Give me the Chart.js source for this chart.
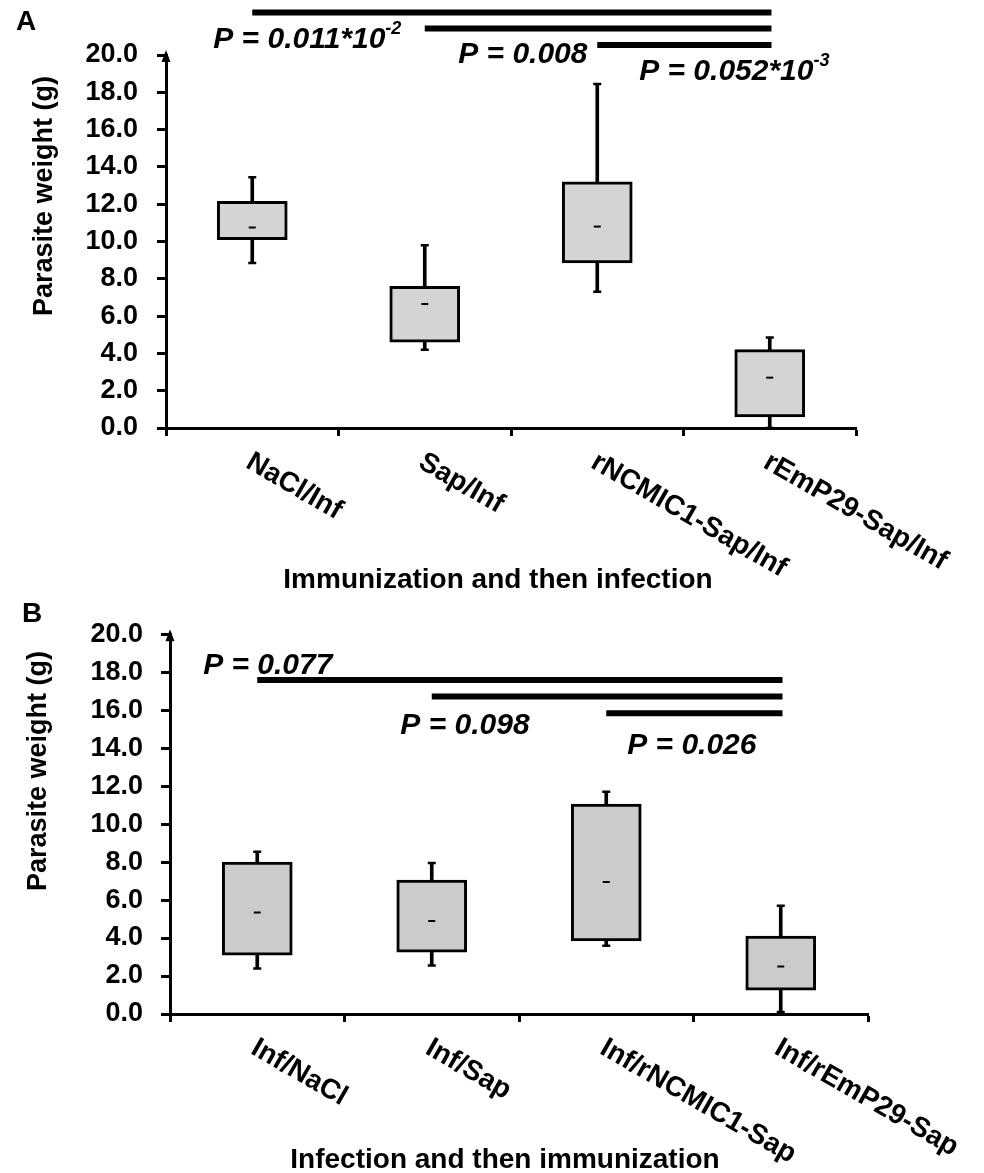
<!DOCTYPE html>
<html>
<head>
<meta charset="utf-8">
<script src="https://cdn.jsdelivr.net/npm/chart.js@4.4.0/dist/chart.umd.min.js"></script>
<style>
  html, body { margin:0; padding:0; background:#fff; }
  #wrap { position:relative; width:984px; height:1173px; }
  .panel { position:absolute; left:0; width:984px; }
  #panelA { top:0; height:600px; }
  #panelB { top:600px; height:573px; }
</style>
</head>
<body>
<div id="wrap">
  <div class="panel" id="panelA"><canvas id="chartA" width="984" height="600"></canvas></div>
  <div class="panel" id="panelB"><canvas id="chartB" width="984" height="573"></canvas></div>
</div>
<script>
const FONT = '"Liberation Sans", Arial, Helvetica, sans-serif';

// --- panel A: immunization and then infection ---
const groupsA = ['NaCl/Inf', 'Sap/Inf', 'rNCMIC1-Sap/Inf', 'rEmP29-Sap/Inf'];
const minA = [8.85, 4.2, 7.3, 0.0];
const q1A  = [10.1, 4.6, 8.85, 0.6];
const medA = [10.75, 6.65, 10.8, 2.7];
const q3A  = [12.15, 7.6, 13.2, 4.2];
const maxA = [13.45, 9.8, 18.45, 4.85];
// significance bars: from group index to last group, at a y level
const barFromA  = [0, 1, 2];
const barLevelA = [22.28, 21.42, 20.54];
const pTextA = ['P = 0.011*10', 'P = 0.008', 'P = 0.052*10'];
const pSupA  = ['-2', '', '-3'];

// --- panel B: infection and then immunization ---
const groupsB = ['Inf/NaCl', 'Inf/Sap', 'Inf/rNCMIC1-Sap', 'Inf/rEmP29-Sap'];
const minB = [2.4, 2.55, 3.6, 0.1];
const q1B  = [3.1, 3.25, 3.85, 1.25];
const medB = [5.35, 4.9, 6.95, 2.5];
const q3B  = [8.0, 7.05, 11.05, 4.1];
const maxB = [8.55, 7.95, 11.7, 5.7];
const barFromB  = [0, 1, 2];
const barLevelB = [17.59, 16.72, 15.84];
const pTextB = ['P = 0.077', 'P = 0.098', 'P = 0.026'];
const pSupB  = ['', '', ''];

const yTicks = [0, 2, 4, 6, 8, 10, 12, 14, 16, 18, 20];

// draws the rotated category labels, titles, axis arrow and p-values
const decoPlugin = {
  id: 'deco',
  afterDraw(chart, args, o) {
    const {ctx, chartArea: a, scales} = chart;
    const x = scales.x, x2 = scales.x2, y = scales.y;
    ctx.save();
    ctx.fillStyle = '#000';

    // arrow head on top of y axis
    ctx.beginPath();
    ctx.moveTo(a.left, a.top - 5);
    ctx.lineTo(a.left - 4.5, a.top + 7);
    ctx.lineTo(a.left + 4.5, a.top + 7);
    ctx.closePath();
    ctx.fill();

    ctx.textAlign = 'left';
    ctx.textBaseline = 'alphabetic';
    ctx.font = 'bold 28px ' + FONT;
    ctx.fillText(o.letter, o.letterPos[0], o.letterPos[1]);

    ctx.save();
    ctx.translate(o.yTitlePos[0], o.yTitlePos[1]);
    ctx.rotate(-Math.PI / 2);
    ctx.font = 'bold 27px ' + FONT;
    ctx.textAlign = 'center';
    ctx.textBaseline = 'middle';
    ctx.fillText(o.yTitle, 0, 0);
    ctx.restore();

    ctx.font = 'bold 28px ' + FONT;
    ctx.textAlign = 'center';
    ctx.fillText(o.xTitle, o.xTitlePos[0], o.xTitlePos[1]);

    o.labels.forEach((t, i) => {
      ctx.save();
      ctx.translate(x.getPixelForValue(i) + 3, x.top + 20);
      ctx.rotate(30 * Math.PI / 180);
      ctx.font = 'bold 28px ' + FONT;
      ctx.textAlign = 'left';
      ctx.textBaseline = 'top';
      ctx.fillText(t, 0, 0);
      ctx.restore();
    });

    ctx.textAlign = 'left';
    ctx.textBaseline = 'alphabetic';
    o.pLabels.forEach(p => {
      const px = x2.getPixelForValue(p.x), py = y.getPixelForValue(p.y);
      ctx.font = 'italic bold 30px ' + FONT;
      ctx.fillText(p.text, px, py);
      if (p.sup) {
        const w = ctx.measureText(p.text).width;
        ctx.font = 'italic bold 18px ' + FONT;
        ctx.fillText(p.sup, px + w, py - 14);
      }
    });
    ctx.restore();
  }
};

function makeChart(id, d) {
  const n = d.groups.length;
  const datasets = [
    { type: 'line', data: d.med, showLine: false, pointStyle: 'line', pointRadius: 3.5,
      pointBorderWidth: 2, borderColor: '#000', order: 0 },
    { type: 'bar', data: d.groups.map((g, i) => [d.q1[i], d.q3[i]]), backgroundColor: d.fill,
      borderColor: '#000', borderWidth: 3, borderSkipped: false, barThickness: 70, grouped: false, order: 1 },
    { type: 'line', data: d.max, showLine: false, pointStyle: 'line', pointRadius: 4,
      pointBorderWidth: 2.5, borderColor: '#000', order: 2 },
    { type: 'line', data: d.min, showLine: false, pointStyle: 'line', pointRadius: 4,
      pointBorderWidth: 2.5, borderColor: '#000', order: 2 },
    { type: 'bar', data: d.groups.map((g, i) => [d.min[i], d.max[i]]), backgroundColor: '#000',
      borderWidth: 0, barThickness: 3, grouped: false, order: 3 }
  ];
  d.barFrom.forEach((from, i) => {
    datasets.push({ type: 'line', xAxisID: 'x2', data: [{x: from, y: d.barLevel[i]}, {x: n - 1 + 0.01, y: d.barLevel[i]}],
      borderColor: '#000', borderWidth: 6, borderCapStyle: 'butt', pointRadius: 0, clip: false, order: 0 });
  });

  return new Chart(document.getElementById(id).getContext('2d'), {
    type: 'bar',
    data: { labels: d.groups, datasets: datasets },
    options: {
      responsive: false,
      animation: false,
      events: [],
      layout: { padding: d.padding },
      plugins: {
        legend: { display: false },
        tooltip: { enabled: false },
        deco: {
          letter: d.letter, letterPos: d.letterPos,
          yTitle: 'Parasite weight (g)', yTitlePos: d.yTitlePos,
          xTitle: d.xTitle, xTitlePos: d.xTitlePos,
          labels: d.groups,
          pLabels: d.pText.map((t, i) => ({ text: t, sup: d.pSup[i], x: d.pPos[i][0], y: d.pPos[i][1] }))
        }
      },
      scales: {
        x: {
          type: 'category', offset: true,
          grid: { display: true, offset: true, drawOnChartArea: false, drawTicks: true,
                  tickLength: 8, tickWidth: 3, tickColor: '#000' },
          border: { display: true, color: '#000', width: 3 },
          ticks: { display: false },
          afterFit(s) { s.height = 20; }
        },
        x2: { type: 'linear', display: false, min: -0.5, max: n - 0.5, offset: false },
        y: {
          min: 0, max: 20,
          afterBuildTicks(s) { s.ticks = yTicks.map(v => ({ value: v })); },
          grid: { display: true, drawOnChartArea: false, drawTicks: true,
                  tickLength: 9, tickWidth: 3, tickColor: '#000' },
          border: { display: true, color: '#000', width: 3 },
          ticks: { autoSkip: false, padding: d.tickPad, color: '#000',
                   font: { family: FONT, size: 27, weight: 'bold' },
                   callback: v => Number(v).toFixed(1) },
          afterFit(s) { s.width = d.padding.leftAxis; }
        }
      }
    },
    plugins: [decoPlugin]
  });
}

makeChart('chartA', {
  groups: groupsA, min: minA, q1: q1A, med: medA, q3: q3A, max: maxA, fill: '#d4d4d4',
  barFrom: barFromA, barLevel: barLevelA, pText: pTextA, pSup: pSupA,
  pPos: [[-0.226, 20.38], [1.194, 19.57], [2.243, 18.66]],
  padding: { left: 0, top: 55, right: 128, bottom: 152, leftAxis: 166 },
  tickPad: 19,
  letter: 'A', letterPos: [16, 30],
  yTitlePos: [45, 196],
  xTitle: 'Immunization and then infection', xTitlePos: [498, 588]
});

makeChart('chartB', {
  groups: groupsB, min: minB, q1: q1B, med: medB, q3: q3B, max: maxB, fill: '#cbcbcb',
  barFrom: barFromB, barLevel: barLevelB, pText: pTextB, pSup: pSupB,
  pPos: [[-0.31, 17.92], [0.82, 14.73], [2.12, 13.68]],
  padding: { left: 0, top: 32, right: 116, bottom: 139, leftAxis: 170 },
  tickPad: 18,
  letter: 'B', letterPos: [22, 22],
  yTitlePos: [39, 171],
  xTitle: 'Infection and then immunization', xTitlePos: [505, 568]
});
</script>
</body>
</html>
